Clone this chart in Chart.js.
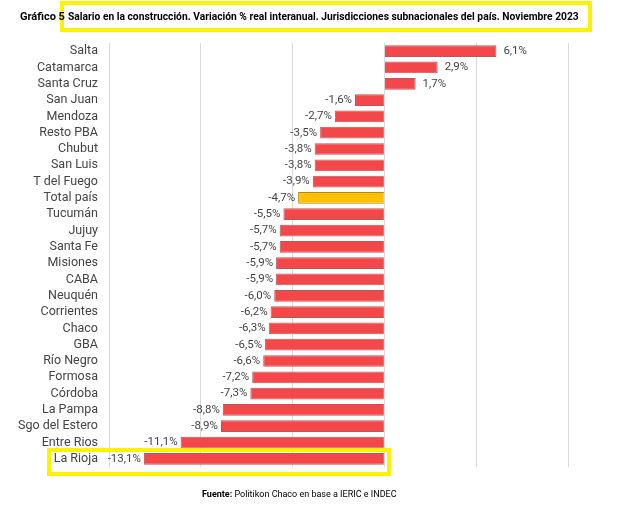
<!DOCTYPE html>
<html><head><meta charset="utf-8">
<script src="https://cdn.jsdelivr.net/npm/chart.js@4.4.1/dist/chart.umd.min.js"></script>
<style>
html,body{margin:0;padding:0;background:#fff;}
#wrap{position:relative;width:617px;height:511px;overflow:hidden;font-family:"Roboto",sans-serif;}
#c{position:absolute;left:0;top:0;}
#num{position:absolute;left:20px;top:10px;font-size:11px;font-weight:bold;color:#000;}
#tbox{position:absolute;left:60px;top:1px;width:524px;height:23px;border:4px solid #fff200;}
#ttl{position:absolute;left:68px;top:10px;font-size:11px;font-weight:bold;color:#000;white-space:nowrap;transform:scaleX(0.934);transform-origin:0 0;}
#src{position:absolute;left:202px;top:489px;font-size:9px;color:#000;white-space:nowrap;}
#bbox{position:absolute;left:47px;top:448px;width:336px;height:20px;border:4px solid #fff200;}
</style></head>
<body>
<div id="wrap">
<canvas id="c" width="617" height="511"></canvas>
<div id="tbox"></div>
<div id="num">Gráfico 5</div>
<div id="ttl">Salario en la construcción. Variación % real interanual. Jurisdicciones subnacionales del país. Noviembre 2023</div>
<div id="bbox"></div>
<div id="src"><b>Fuente:</b> Politikon Chaco en base a IERIC e INDEC</div>
</div>
<script>
const categories = ["Salta","Catamarca","Santa Cruz","San Juan","Mendoza","Resto PBA","Chubut","San Luis","T del Fuego","Total país","Tucumán","Jujuy","Santa Fe","Misiones","CABA","Neuquén","Corrientes","Chaco","GBA","Río Negro","Formosa","Córdoba","La Pampa","Sgo del Estero","Entre Rios","La Rioja"];
const values = [6.1,2.9,1.7,-1.6,-2.7,-3.5,-3.8,-3.8,-3.9,-4.7,-5.5,-5.7,-5.7,-5.9,-5.9,-6.0,-6.2,-6.3,-6.5,-6.6,-7.2,-7.3,-8.8,-8.9,-11.1,-13.1];
const highlight = "Total país";
const xTicks = [-15,-10,-5,0,5,10];

const RED = "#f4474a", GOLD = "#ffc000";
const labelPlugin = {
  id:'vlabels',
  afterDatasetsDraw(chart){
    const ctx = chart.ctx;
    const meta = chart.getDatasetMeta(0);
    ctx.save();
    ctx.font = '11.5px Roboto, sans-serif';
    ctx.fillStyle = '#444';
    ctx.textBaseline = 'middle';
    meta.data.forEach((bar,i)=>{
      const v = values[i];
      const txt = v.toFixed(1).replace('.',',') + '%';
      if(v>=0){ ctx.textAlign='left'; ctx.fillText(txt, bar.x+7, bar.y); }
      else { ctx.textAlign='right'; ctx.fillText(txt, bar.x-3, bar.y); }
    });
    ctx.restore();
  }
};

new Chart(document.getElementById('c'), {
  type:'bar',
  data:{labels:categories, datasets:[{
    data:values,
    backgroundColor:categories.map(c=>c===highlight?GOLD:RED),
    borderColor:categories.map(c=>c===highlight?'#b08a20':'#b8585a'),
    borderWidth:1,
    barPercentage:0.72, categoryPercentage:1
  }]},
  options:{
    indexAxis:'y', responsive:false, animation:false,
    devicePixelRatio:1,
    layout:{padding:{left:0,right:49,top:43,bottom:44}},
    plugins:{legend:{display:false},tooltip:{enabled:false}},
    scales:{
      x:{min:-15,max:10,
        afterBuildTicks(s){ s.ticks = xTicks.map(v=>({value:v})); },
        afterFit(s){ s.height=0; },
        ticks:{display:false},
        grid:{color:'#d9d9d9',drawTicks:false,lineWidth:1},
        border:{display:false}},
      y:{
        afterFit(s){ s.width=109; },
        grid:{display:false,drawTicks:false},
        border:{display:false},
        ticks:{padding:11,color:'#444',font:{family:'Roboto, sans-serif',size:12.5},autoSkip:false}
      }
    }
  },
  plugins:[labelPlugin]
});
</script>
</body></html>
